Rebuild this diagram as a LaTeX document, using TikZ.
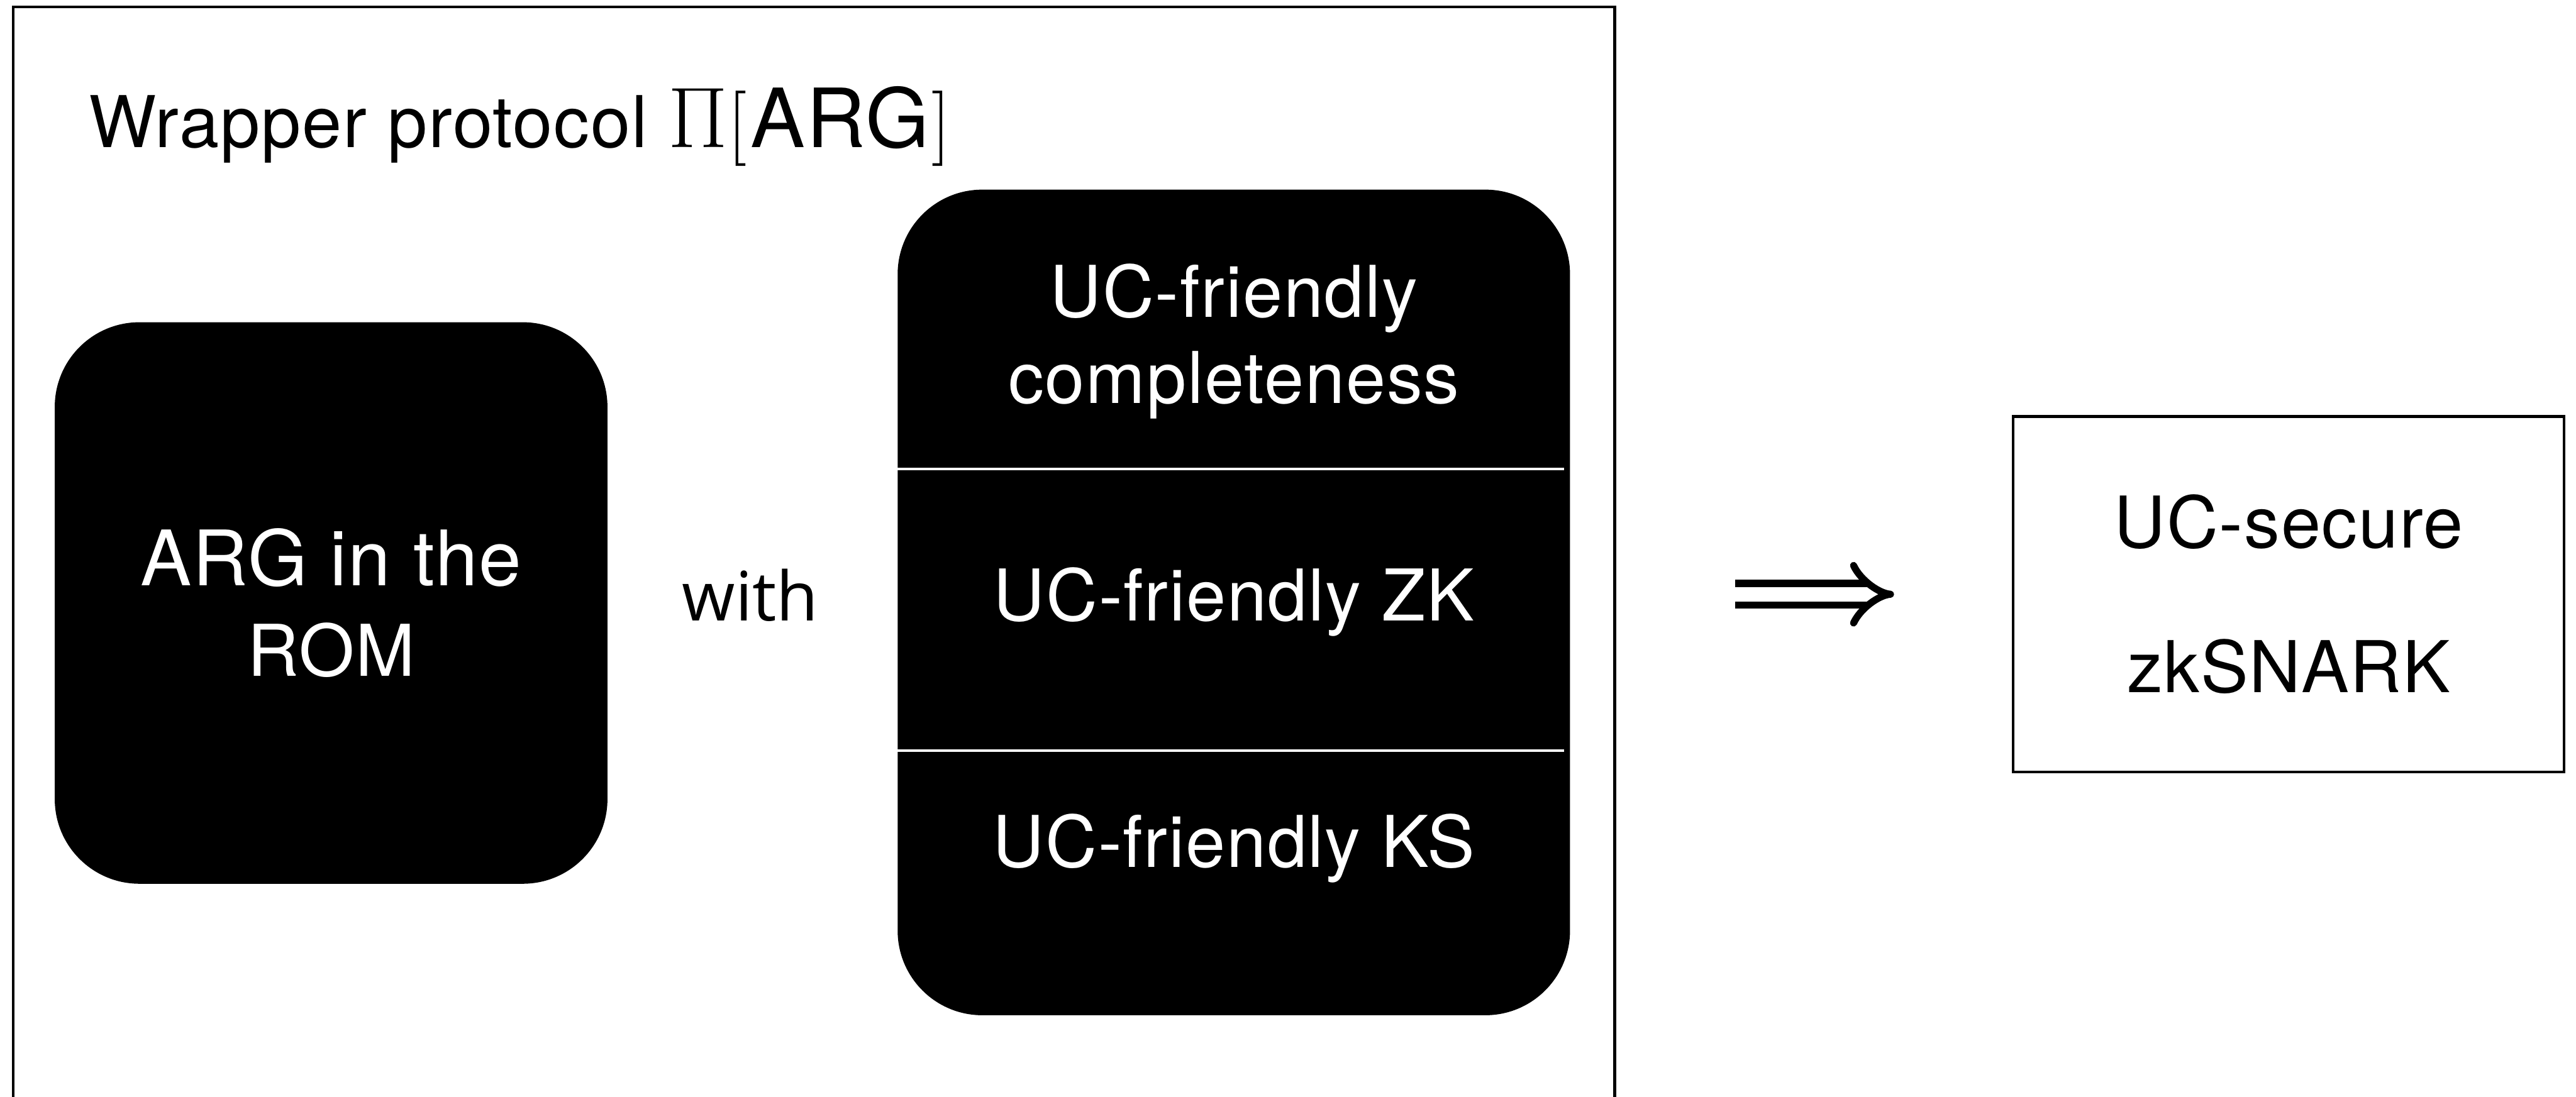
\documentclass[tikz,border=0pt]{standalone}
\usepackage{fix-cm}
\usepackage{amsmath}
\usepackage[no-math]{fontspec}
\setmainfont[LetterSpace=1.5]{TeX Gyre Heros}
\newfontfamily\withfont{Open Sans}
\usepackage{tikz}
\usetikzlibrary{arrows.meta}
\newcommand{\wsize}[1]{\fontsize{18}{#1}\selectfont}

\begin{document}
\begin{tikzpicture}[
    every node/.style = { font = \wsize{22} },
    blk/.style = { fill = black, text = white, rounded corners = 0.75cm,
      inner sep = 0pt, outer sep = 0pt },
    frm/.style = { draw, line width = 0.7pt, inner sep = 0pt, outer sep = 0pt },
    sep/.style = { white, line width = 0.75pt } ]
  \useasboundingbox (0,0) rectangle (22.815,-9.715);
  \clip (0,0) rectangle (22.815,-9.715);
  \node [ frm, anchor = north west, minimum width = 14.1825cm,
    minimum height = 10.5cm ] (0) at (0.1175,-0.0625) {};
  \node [ anchor = base west, inner sep = 0pt ] (1) at (0.78,-1.305)
    { Wrapper protocol {\fontsize{21.7}{25}\selectfont $ \Pi $}{\fontsize{19}{25}\selectfont $ [ $}\kern1pt{\fontsize{20.6}{25}\selectfont ARG}\kern0.7pt{\fontsize{19}{25}\selectfont $ ] $} };
  \node [ blk, minimum width = 4.895cm, minimum height = 4.975cm,
    align = center, font = \wsize{22.9} ] (2) at (2.9325,-5.3425)
    { {\fontsize{19.3}{22.9}\selectfont ARG in the}\\ ROM };
  \node [ anchor = base ] (3) at (6.645,-5.50)
    { \withfont\fontsize{17.2}{20}\selectfont with };
  \node [ blk, minimum width = 5.955cm, minimum height = 7.315cm ]
    (4) at (10.9275,-5.3375) {};
  \draw [ sep ] (4.west |- 0,-4.155) -- (13.855,-4.155);
  \draw [ sep ] (4.west |- 0,-6.65) -- (13.855,-6.65);
  \node [ anchor = north, text = white, align = center, inner sep = 0pt,
    font = \wsize{21.7} ] (5) at (10.9275,-2.33) { UC-friendly\\ completeness };
  \node [ anchor = base, text = white ] (6) at (10.9275,-5.50) { UC-friendly ZK };
  \node [ anchor = base, text = white ] (7) at (10.9275,-7.685) { UC-friendly KS };
  \node [ frm, minimum width = 4.88cm, minimum height = 3.15cm,
    align = center, font = \wsize{36.4} ] (8) at (20.27,-5.265)
    { UC-secure\\ zkSNARK };
  \coordinate (a) at (15.37,-5.265);
  \coordinate (b) at (16.775,-5.265);
  \draw [ double, line width = 1.78pt, double distance = 3.7pt,
    -{ Implies[ length = 10pt, width = 16pt ] } ] (a) -- (b);
\end{tikzpicture}
\end{document}
